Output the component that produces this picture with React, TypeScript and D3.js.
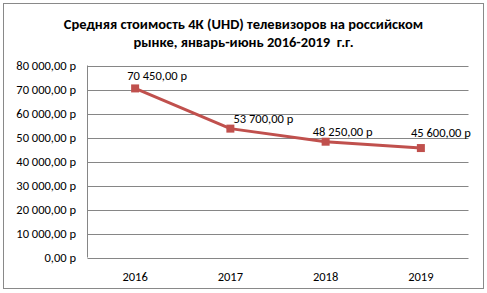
import React from "react";
import * as d3 from "d3";

const categories = ["2016", "2017", "2018", "2019"];
const values = [70450, 53700, 48250, 45600];
const yTicks = [0, 10000, 20000, 30000, 40000, 50000, 60000, 70000, 80000];
const titleLines = [
  "Средняя стоимость 4К (UHD) телевизоров на российском",
  "рынке, январь-июнь 2016-2019  г.г.",
];
const labelDx = [22, 33, 17, 20];
const labelDy = [-8.5, -6, -6, -11];

const W = 487;
const H = 293;
const left = 87.5;
const right = 468.5;
const top = 65.5;
const bottom = 257.5;
const font = "Carlito, Calibri, 'Open Sans', sans-serif";

function fmt(v: number): string {
  const s = Math.round(v).toString().replace(/\B(?=(\d{3})+(?!\d))/g, " ");
  return s + ",00 р";
}

export default function App() {
  const x = d3.scalePoint<string>().domain(categories).range([left, right]).padding(0.5);
  const y = d3.scaleLinear().domain([0, 80000]).range([bottom, top]);
  const line = d3
    .line<number>()
    .x((_, i) => x(categories[i]) as number)
    .y((d) => y(d));
  return (
    <svg width={W} height={H} style={{ position: "absolute", left: 0, top: 0 }}>
      <rect x={0} y={0} width={W} height={H} fill="#fff" />
      <rect x={3.5} y={3.5} width={480} height={285} fill="#fff" stroke="#898989" strokeWidth={1} />
      {titleLines.map((t, i) => (
        <text
          key={i}
          x={243.5}
          y={28.5 + i * 18.5}
          textAnchor="middle"
          fontFamily={font}
          fontWeight="bold"
          fontSize={14.5}
          fill="#000"
          style={{ whiteSpace: "pre" }}
        >
          {t}
        </text>
      ))}
      {yTicks.map((t) => (
        <g key={t}>
          <line x1={left} x2={right} y1={Math.round(y(t)) + 0.5} y2={Math.round(y(t)) + 0.5} stroke="#868686" strokeWidth={1} />
          <text x={76} y={y(t) + 4.5} textAnchor="end" fontFamily={font} fontSize={12.5} fill="#000">
            {fmt(t)}
          </text>
        </g>
      ))}
      <line x1={left} x2={left} y1={top} y2={bottom} stroke="#868686" strokeWidth={1} />
      {categories.map((c) => (
        <text key={c} x={x(c)} y={281} textAnchor="middle" fontFamily={font} fontSize={12.5} fill="#000">
          {c}
        </text>
      ))}
      <path d={line(values) || ""} fill="none" stroke="#c0504d" strokeWidth={3} strokeLinejoin="round" />
      {values.map((v, i) => (
        <rect key={i} x={(x(categories[i]) as number) - 4} y={y(v) - 4} width={8} height={8} fill="#c0504d" />
      ))}
      {values.map((v, i) => (
        <text
          key={"l" + i}
          x={(x(categories[i]) as number) + labelDx[i]}
          y={y(v) + labelDy[i]}
          textAnchor="middle"
          fontFamily={font}
          fontSize={12.5}
          fill="#000"
        >
          {fmt(v)}
        </text>
      ))}
    </svg>
  );
}
